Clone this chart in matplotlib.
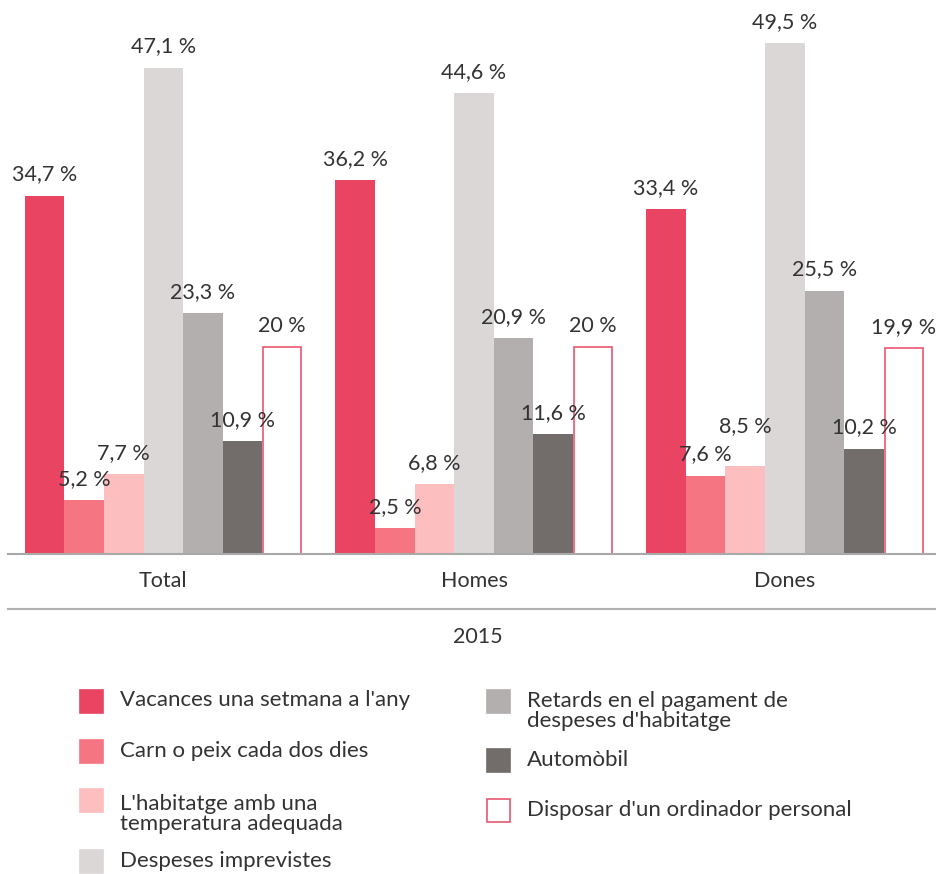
import numpy as np
import matplotlib.pyplot as plt
from matplotlib.patches import Rectangle

plt.rcParams['font.family'] = ['Lato', 'DejaVu Sans']

groups = ['Total', 'Homes', 'Dones']
series = [
    "Vacances una setmana a l'any",
    "Carn o peix cada dos dies",
    "L'habitatge amb una\ntemperatura adequada",
    "Despeses imprevistes",
    "Retards en el pagament de\ndespeses d'habitatge",
    "Automòbil",
    "Disposar d'un ordinador personal",
]
vacances = [34.7, 36.2, 33.4]
carn = [5.2, 2.5, 7.6]
temperatura = [7.7, 6.8, 8.5]
imprevistes = [47.1, 44.6, 49.5]
retards = [23.3, 20.9, 25.5]
automobil = [10.9, 11.6, 10.2]
ordinador = [20.0, 20.0, 19.9]
values = [vacances, carn, temperatura, imprevistes, retards, automobil, ordinador]

colors = ['#e94461', '#f67582', '#fdbec0', '#dbd7d7', '#b3afae', '#726d6a', 'white']
edge_red = '#e9566f'
text_col = '#333333'
year = '2015'

W, H = 937, 874
fig = plt.figure(figsize=(W / 100, H / 100), dpi=100)
ax = fig.add_axes([8 / W, (H - 554) / H, 1 - 8 / W, (554 - 20) / H])

x = np.arange(len(groups))
w = 0.1275
for j, (vals, col) in enumerate(zip(values, colors)):
    pos = x + (j - 3) * w
    if col == 'white':
        bars = ax.bar(pos, vals, w * 0.96, color='white', edgecolor=edge_red, linewidth=1.2)
    else:
        bars = ax.bar(pos, vals, w, color=col, linewidth=0)
    for i, (b, v) in enumerate(zip(bars, vals)):
        lab = ('%g' % v).replace('.', ',') + ' %'
        dy = 8
        # lift a label that would collide with its left neighbour's label
        if j > 0 and 0 < v - values[j - 1][i] < 2:
            dy += 14
        ax.annotate(lab, (b.get_x() + b.get_width() / 2, v), xytext=(0, dy),
                    textcoords='offset points', ha='center', va='bottom',
                    fontsize=15.5, color=text_col, zorder=5)

ax.set_xlim(-0.5, 2.49)
ax.set_ylim(0, 51.7)
for s in ['top', 'right', 'left']:
    ax.spines[s].set_visible(False)
ax.spines['bottom'].set_color('#a9a9a9')
ax.spines['bottom'].set_linewidth(1.5)
ax.set_yticks([])
ax.set_xticks(x)
ax.set_xticklabels(groups, fontsize=15.5, color=text_col)
ax.tick_params(axis='x', length=0, pad=12)

# second rule and year label under the groups
fig.add_artist(plt.Line2D([8 / W, 1], [1 - 609 / H, 1 - 609 / H], color='#b0b0b0', lw=1.5))
fig.text(478 / W, 1 - 637 / H, year, ha='center', va='center', fontsize=15.5, color=text_col)

# legend laid out in two columns: (square x, square centre y, text centre y)
legend_rows = [
    (80, 701, 700), (80, 751, 751), (80, 800, 814), (80, 861, 861),
    (487, 701, 711), (487, 760, 760), (487, 810, 810),
]
sq = 23
for (lx, sy, ty), name, col in zip(legend_rows, series, colors):
    ec = edge_red if col == 'white' else col
    fig.add_artist(Rectangle((lx / W, 1 - (sy + sq / 2) / H), sq / W, sq / H,
                             facecolor=col, edgecolor=ec, linewidth=1.2,
                             transform=fig.transFigure))
    fig.text((lx + 40) / W, 1 - ty / H, name, ha='left', va='center',
             fontsize=16, color=text_col, linespacing=0.95)

fig.savefig('out.png', dpi=100)
